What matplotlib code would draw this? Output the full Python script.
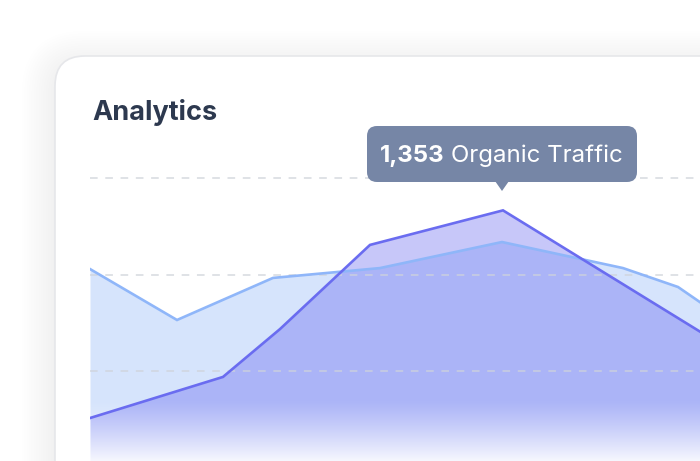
import numpy as np
import matplotlib
matplotlib.use("Agg")
import matplotlib.pyplot as plt
from matplotlib.patches import FancyBboxPatch, Polygon

plt.rcParams['font.family'] = ['Inter', 'DejaVu Sans']

# ---------------- data ----------------
organic_x = [0, 13.3, 19.0, 28.0, 41.3, 63.0]
organic_y = [277, 490, 738, 1174, 1353, 661]
other_x = [0, 8.7, 18.3, 29.0, 41.2, 53.3, 58.8, 63.0]
other_y = [1049, 785, 1003, 1054, 1189, 1054, 956, 806]
grid_values = [520, 1020, 1520]
peak_label = "1,353"
series_label = "Organic Traffic"
title = "Analytics"

W, H = 700, 461
fig = plt.figure(figsize=(7, 4.61), dpi=100)
fig.patch.set_facecolor('white')

# ---------------- card background ----------------
bg = fig.add_axes([0, 0, 1, 1])
bg.set_xlim(0, W)
bg.set_ylim(H, 0)
bg.axis('off')
for i in range(14):
    d = 2 + i * 2.4
    sh = FancyBboxPatch((55 - d, 56 - d + 8), 900 + 2 * d, 700 + 2 * d,
                        boxstyle="round,pad=0,rounding_size=%f" % (30 + d),
                        facecolor='#1e2a40', edgecolor='none', alpha=0.0025)
    bg.add_patch(sh)
card = FancyBboxPatch((55, 56), 900, 700, boxstyle="round,pad=0,rounding_size=30",
                      facecolor='white', edgecolor='#e6e7ea', linewidth=1.2)
bg.add_patch(card)
bg.text(92, 112, title, fontsize=19.5, fontweight='bold', color='#2d394f',
        ha='left', va='center')

# ---------------- chart ----------------
ax = fig.add_axes([90 / W, 0, (730 - 90) / W, (461 - 150) / H])
ax.set_facecolor('none')
ax.axis('off')
ylo, yhi = 54.4, 1665.8

for g in grid_values:
    ax.axhline(g, color='#cfd3da', lw=1.1, dashes=(5, 5), zorder=4, alpha=0.85)

ax.fill_between(other_x, other_y, ylo - 10, color='#d6e4fc', lw=0, zorder=1)
ax.fill_between(organic_x, organic_y, ylo - 10, color='#4848ee', alpha=0.3, lw=0, zorder=2)

# bottom fade
n = 200
t = np.linspace(0, 1, n)[:, None]
alpha = 0.9 * t ** 1.2
img = np.ones((n, 2, 4))
img[..., 3] = alpha
fade_top = ylo + (461 - 400) * (yhi - ylo) / (461 - 150)
ax.imshow(img, extent=[0, 64, ylo, fade_top], origin='upper', aspect='auto',
          zorder=3, interpolation='bilinear')
ax.set_xlim(0, 64)
ax.set_ylim(ylo, yhi)

ax.plot(other_x, other_y, color='#8fb6f9', lw=1.9, zorder=5, solid_joinstyle='miter')
ax.plot(organic_x, organic_y, color='#6a6cf0', lw=1.9, zorder=6, solid_joinstyle='miter')

# ---------------- tooltip ----------------
ov = fig.add_axes([0, 0, 1, 1])
ov.set_xlim(0, W)
ov.set_ylim(H, 0)
ov.axis('off')
ov.set_facecolor('none')
tip = FancyBboxPatch((367, 126), 270, 56, boxstyle="round,pad=0,rounding_size=10",
                     facecolor='#7686a6', edgecolor='none')
ov.add_patch(tip)
ov.add_patch(Polygon([(495, 181), (509, 181), (502, 191)], closed=True,
                     facecolor='#7686a6', edgecolor='none'))
t1 = ov.text(380, 156, peak_label, fontsize=17.3, fontweight='bold', color='white',
             ha='left', va='center')
fig.canvas.draw()
r = fig.canvas.get_renderer()
bb = t1.get_window_extent(renderer=r)
x_end = bb.x1 * W / fig.bbox.width
ov.text(x_end + 6, 156, series_label, fontsize=17.3, color='white', ha='left', va='center')

fig.savefig('out.png', dpi=100)
